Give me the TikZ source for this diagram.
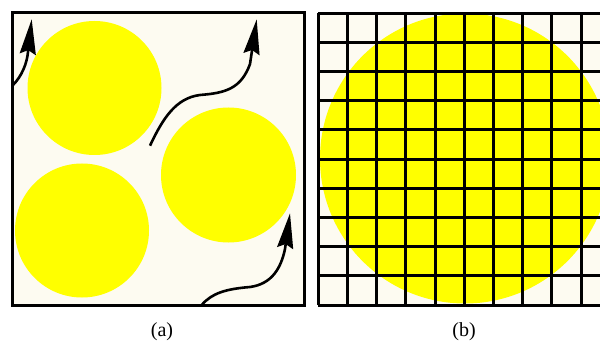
\documentclass[tikz,border=0pt]{standalone}
\usepackage{fontspec}
\setmainfont{Liberation Serif}
\usepackage{tikz}
\usetikzlibrary{arrows.meta}
\definecolor{cream}{RGB}{253,251,241}
\definecolor{dropyellow}{RGB}{255,255,0}

\begin{document}
\begin{tikzpicture}[x=1pt, y=-1pt,
      panel/.style={draw=black, line width=3pt, fill=cream},
      drop/.style={fill=dropyellow},
      gridline/.style={black, line width=3pt},
      flow/.style={line width=2.6pt, -{Stealth[length=35pt, width=16pt, inset=4pt]}},
      caption/.style={font=\fontsize{20}{22}\selectfont, inner sep=0pt}]
    \useasboundingbox (0,0) rectangle (600,342);
    \clip (0,0) rectangle (600,342);
    % (a) separate drops
    \draw[panel] (12.5,12.7) rectangle (304,305);
    \fill[drop] (94.5,88) circle (67);
    \fill[drop] (82,230.5) circle (67);
    \fill[drop] (228.5,175) circle (67.5);
    \coordinate (s1) at (13,85);   \coordinate (t1) at (31.7,19.3);
    \coordinate (s2) at (150,145.7); \coordinate (t2) at (256.7,19.3);
    \coordinate (s3) at (201.7,305); \coordinate (t3) at (290,213.3);
    \draw[flow] (s1) .. controls (22,76) and (27,63) .. (28,52) -- (t1);
    \draw[flow] (s2) .. controls (163,118) and (176,98) .. (200,95)
                     .. controls (225,93) and (241,89) .. (250,64) -- (t2);
    \draw[flow] (s3) .. controls (212,293) and (226,289) .. (250,287)
                     .. controls (272,284) and (281,268) .. (285,249) -- (t3);
    \node[caption] (la) at (162,332) {(a)};
    % (b) one drop on the mesh
    \fill[cream] (318.3,13.3) rectangle (610,305);
    \fill[drop] (465,158.5) circle (145);
    \foreach \i in {0,...,10}
      \draw[gridline] ({318.3+29.2*\i},13.3) -- ({318.3+29.2*\i},305);
    \foreach \j in {0,...,10}
      \draw[gridline] (318.3,{13.3+29.17*\j}) -- (612,{13.3+29.17*\j});
    \node[caption] (lb) at (464,332) {(b)};
  \end{tikzpicture}
\end{document}
